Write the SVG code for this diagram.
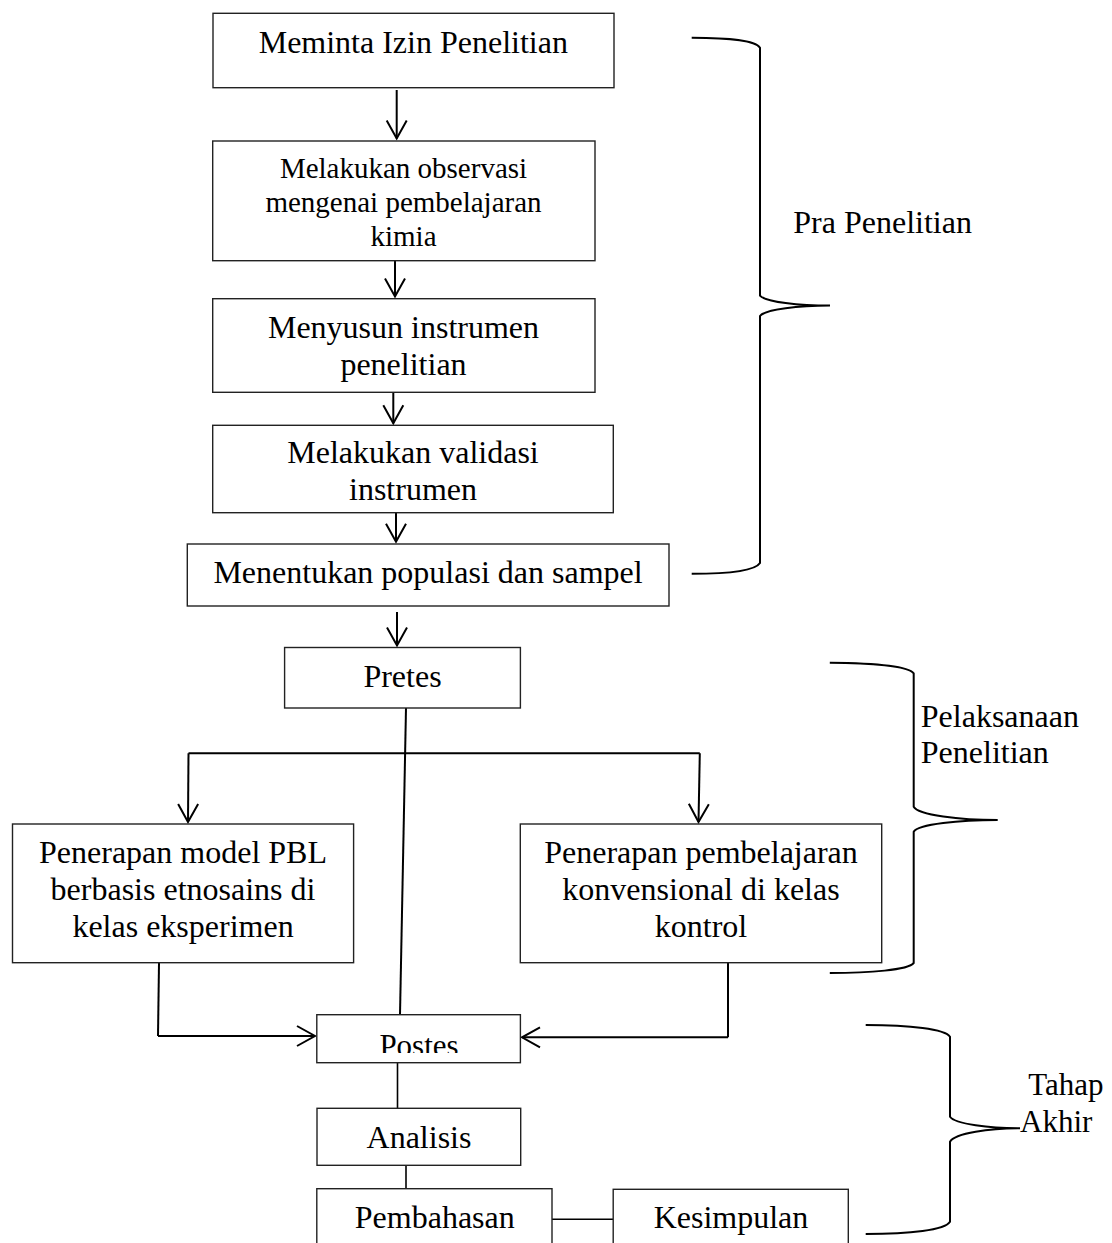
<svg xmlns="http://www.w3.org/2000/svg" width="1112" height="1243" viewBox="0 0 1112 1243">
<style>
.box{fill:#fff;stroke:#222;stroke-width:1.4}
.t{font-family:"Liberation Serif","Times New Roman",serif;font-size:32px;fill:#000;text-anchor:middle}
.ts{font-family:"Liberation Serif","Times New Roman",serif;font-size:32px;fill:#000}
.c{fill:none;stroke:#000;stroke-width:2}
.c1{fill:none;stroke:#000;stroke-width:1.6}
.br{fill:none;stroke:#000;stroke-width:2}
</style>
<defs>
<marker id="ah" viewBox="-20 -12 22 24" markerWidth="22" markerHeight="24" refX="0" refY="0" orient="auto" markerUnits="userSpaceOnUse">
<path d="M-18,-10 L0,0 L-18,10" fill="none" stroke="#000" stroke-width="2"/>
</marker>
<clipPath id="postesClip"><rect x="317" y="1015" width="204" height="38"/></clipPath>
</defs>

<g id="connectors">
<line class="c" x1="396.7" y1="90" x2="396.7" y2="138.5" marker-end="url(#ah)"/>
<line class="c" x1="395" y1="261" x2="395" y2="296.5" marker-end="url(#ah)"/>
<line class="c" x1="393.3" y1="392.5" x2="393.3" y2="423.3" marker-end="url(#ah)"/>
<line class="c" x1="396" y1="513" x2="396" y2="541.7" marker-end="url(#ah)"/>
<line class="c" x1="397" y1="612" x2="397" y2="645.5" marker-end="url(#ah)"/>
<line class="c" x1="406" y1="708" x2="400" y2="1015"/>
<polyline class="c" points="188.5,753.3 699.8,753.3"/>
<line class="c" x1="188.5" y1="753.3" x2="188" y2="822" marker-end="url(#ah)"/>
<line class="c" x1="699.8" y1="753.3" x2="698.5" y2="822" marker-end="url(#ah)"/>
<line class="c" x1="159" y1="963" x2="158" y2="1036"/>
<line class="c" x1="158" y1="1036" x2="315" y2="1036" marker-end="url(#ah)"/>
<line class="c" x1="728" y1="963" x2="728" y2="1037.3"/>
<line class="c" x1="728" y1="1037.3" x2="522" y2="1037.3" marker-end="url(#ah)"/>
<line class="c1" x1="397.5" y1="1063" x2="397.5" y2="1108.3"/>
<line class="c1" x1="406" y1="1165.3" x2="406" y2="1188.7"/>
<line class="c1" x1="552" y1="1219.3" x2="613.2" y2="1219.3"/>
</g>

<g id="braces">
<path class="br" d="M691.7,37.8 C730,38 755,40 760,47.7 L760,295.6 C765,302 800,305.6 830,305.6 C800,305.6 765,309 760,316 L760,563 C755,571 730,573.8 691.7,573.8"/>
<path class="br" d="M829.8,662.7 C870,663 908,666 913.7,673.3 L913.7,806.7 C918,815 960,820 997.7,820 C960,820 918,824 913.7,831.7 L913.7,963 C908,970 870,973 829.8,973"/>
<path class="br" d="M865.7,1025 C910,1025 945,1029 950,1036.7 L950,1116.7 C955,1124 990,1128.3 1020,1128.3 C990,1128.3 955,1133 950,1141.7 L950,1221.7 C945,1230 910,1234 865.7,1234"/>
</g>

<g id="n1"><rect class="box" x="213" y="13.3" width="401" height="74.4"/><text class="t" x="413.3" y="52.7">Meminta Izin Penelitian</text></g>
<g id="n2"><rect class="box" x="212.7" y="141" width="382.3" height="119.7"/><text class="t" x="403.5" y="177.7" style="font-size:29px">Melakukan observasi</text><text class="t" x="403.5" y="211.7" style="font-size:29px">mengenai pembelajaran</text><text class="t" x="403.5" y="245.7" style="font-size:29px">kimia</text></g>
<g id="n3"><rect class="box" x="212.7" y="298.7" width="382.3" height="93.6"/><text class="t" x="403.5" y="338.3">Menyusun instrumen</text><text class="t" x="403.5" y="375">penelitian</text></g>
<g id="n4"><rect class="box" x="212.7" y="425.3" width="400.6" height="87.4"/><text class="t" x="413" y="463.3">Melakukan validasi</text><text class="t" x="413" y="500">instrumen</text></g>
<g id="n5"><rect class="box" x="187.3" y="544" width="481.7" height="62"/><text class="t" x="428" y="583.3">Menentukan populasi dan sampel</text></g>
<g id="n6"><rect class="box" x="284.6" y="647.5" width="235.8" height="60.5"/><text class="t" x="402.5" y="686.7">Pretes</text></g>
<g id="n7"><rect class="box" x="12.5" y="824" width="341.1" height="138.7"/><text class="t" x="183" y="863.3">Penerapan model PBL</text><text class="t" x="183" y="900">berbasis etnosains di</text><text class="t" x="183" y="936.7">kelas eksperimen</text></g>
<g id="n8"><rect class="box" x="520.3" y="824" width="361.4" height="138.7"/><text class="t" x="701" y="863.3">Penerapan pembelajaran</text><text class="t" x="701" y="900">konvensional di kelas</text><text class="t" x="701" y="936.7">kontrol</text></g>
<g id="n9"><rect class="box" x="316.8" y="1014.7" width="203.6" height="48"/><text class="t" x="419" y="1056" style="font-size:31px" clip-path="url(#postesClip)">Postes</text></g>
<g id="n10"><rect class="box" x="317" y="1108.3" width="203.7" height="57"/><text class="t" x="419" y="1148.3">Analisis</text></g>
<g id="n11"><rect class="box" x="316.8" y="1188.7" width="235.2" height="70"/><text class="t" x="434.8" y="1228.3">Pembahasan</text></g>
<g id="n12"><rect class="box" x="613.2" y="1189.3" width="235.1" height="70"/><text class="t" x="731" y="1228.3">Kesimpulan</text></g>

<g id="labels">
<text class="ts" x="793.3" y="232.7">Pra Penelitian</text>
<text class="ts" x="920.8" y="727.3">Pelaksanaan</text>
<text class="ts" x="920.8" y="763.3">Penelitian</text>
<text class="ts" x="1028.3" y="1095" style="font-size:31px">Tahap</text>
<text class="ts" x="1020" y="1131.7" style="font-size:31px">Akhir</text>
</g>
</svg>
